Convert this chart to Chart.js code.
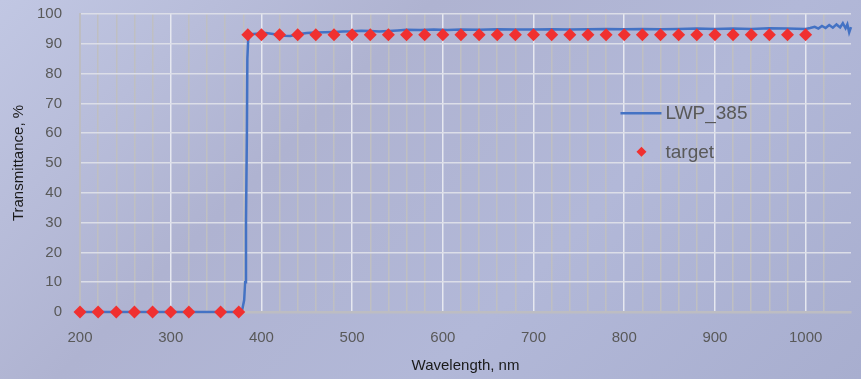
<!DOCTYPE html>
<html>
<head>
<meta charset="utf-8">
<script src="https://cdn.jsdelivr.net/npm/chart.js@4/dist/chart.umd.min.js"></script>
<style>
	html, body { margin: 0; padding: 0; }
	body {
		width: 861px;
		height: 379px;
		background: linear-gradient(135deg, #c1c7e3 0%, #afb3d1 35%, #b2b8d8 65%, #a8aecf 100%);
	}
	#wrap { position: relative; width: 861px; height: 379px; }
</style>
</head>
<body>
<div id="wrap"><canvas id="chart"></canvas></div>
<script>
// measured curve of the long-pass filter
const lwpWave = [
	200, 250, 300, 350, 370, 376, 379, 381, 382, 383, 384, 384.5, 385.5, 388,
	395, 405, 415, 425, 432, 440, 450, 460, 470, 480, 490, 500, 510, 520, 530,
	540, 550, 560, 575, 590, 605, 620, 640, 660, 680, 700, 720, 740, 760, 780,
	800, 820, 840, 860, 880, 900, 920, 940, 960, 980, 1000, 1005, 1010, 1014,
	1018, 1022, 1026, 1030, 1034, 1038, 1041, 1044, 1046, 1048, 1050
];
const lwpT = [
	0, 0, 0, 0, 0, 0.1, 1, 4, 10, 30, 60, 85, 92, 93.2,
	93.4, 93.6, 93.2, 92.7, 92.6, 93.2, 93.6, 93.8, 93.9, 94.0, 94.1, 94.2, 94.4, 94.3, 94.1,
	94.3, 94.5, 94.7, 94.6, 94.8, 94.6, 94.8, 94.7, 94.9, 94.8, 94.8, 94.9, 94.8, 94.9, 95.0,
	94.9, 95.0, 94.9, 95.0, 95.1, 95.0, 95.1, 95.0, 95.2, 95.1, 95.0, 95.3, 95.7, 95.1,
	96.0, 95.3, 96.3, 95.4, 96.5, 95.5, 96.9, 95.2, 96.5, 93.8, 95.6
];

// design target points
const targetWave = [
	200, 220, 240, 260, 280, 300, 320, 355, 375,
	385, 400, 420, 440, 460, 480, 500, 520, 540, 560, 580, 600, 620, 640, 660,
	680, 700, 720, 740, 760, 780, 800, 820, 840, 860, 880, 900, 920, 940, 960,
	980, 1000
];
const targetT = [
	0, 0, 0, 0, 0, 0, 0, 0, 0,
	93, 93, 93, 93, 93, 93, 93, 93, 93, 93, 93, 93, 93, 93, 93,
	93, 93, 93, 93, 93, 93, 93, 93, 93, 93, 93, 93, 93, 93, 93,
	93, 93
];

const xMin = 200, xMax = 1050, xStep = 20, xLabelStep = 100;
const yMin = 0, yMax = 100, yStep = 10;

const toPoints = (xs, ys) => xs.map((x, i) => ({ x: x, y: ys[i] }));

const tickColor = '#595959';
const font = 'Liberation Sans';

// legend drawn inside the plot area, on the right
const insideLegend = {
	id: 'insideLegend',
	afterDraw(chart) {
		const ctx = chart.ctx;
		const area = chart.chartArea;
		const x0 = area.left + (area.right - area.left) * 0.701;
		const yRows = [area.top + (area.bottom - area.top) * 0.333, area.top + (area.bottom - area.top) * 0.462];
		ctx.save();
		ctx.font = '19px ' + font;
		ctx.fillStyle = tickColor;
		ctx.textBaseline = 'middle';
		chart.data.datasets.forEach((ds, i) => {
			const y = yRows[i];
			if (ds.showLine) {
				ctx.strokeStyle = ds.borderColor;
				ctx.lineWidth = ds.borderWidth;
				ctx.beginPath();
				ctx.moveTo(x0, y);
				ctx.lineTo(x0 + 41, y);
				ctx.stroke();
			} else {
				const cx = x0 + 21, r = 5;
				ctx.fillStyle = ds.backgroundColor;
				ctx.beginPath();
				ctx.moveTo(cx, y - r);
				ctx.lineTo(cx + r, y);
				ctx.lineTo(cx, y + r);
				ctx.lineTo(cx - r, y);
				ctx.closePath();
				ctx.fill();
				ctx.fillStyle = tickColor;
			}
			ctx.fillText(ds.label, x0 + 45, y + 1);
		});
		ctx.restore();
	}
};

new Chart(document.getElementById('chart'), {
	type: 'scatter',
	data: {
		datasets: [
			{
				label: 'LWP_385',
				data: toPoints(lwpWave, lwpT),
				showLine: true,
				borderColor: '#4472c4',
				borderWidth: 2.5,
				pointRadius: 0,
				tension: 0,
				clip: false,
				order: 2
			},
			{
				label: 'target',
				data: toPoints(targetWave, targetT),
				showLine: false,
				pointStyle: 'rectRot',
				pointRadius: 6.5,
				backgroundColor: '#f03030',
				borderColor: '#f03030',
				borderWidth: 0,
				clip: false,
				order: 1
			}
		]
	},
	options: {
		responsive: true,
		maintainAspectRatio: false,
		animation: false,
		layout: { padding: { top: 14, right: 10, left: 0, bottom: 0 } },
		plugins: {
			legend: { display: false },
			tooltip: { enabled: false }
		},
		scales: {
			x: {
				type: 'linear',
				min: xMin,
				max: xMax,
				afterFit: (scale) => { scale.height = 67; },
				afterBuildTicks: (scale) => {
					const ticks = [];
					for (let v = xMin; v <= xMax - xStep; v += xStep) ticks.push({ value: v });
					scale.ticks = ticks;
				},
				ticks: {
					autoSkip: false,
					maxRotation: 0,
					color: tickColor,
					font: { family: font, size: 15 },
					padding: 17,
					callback: (v) => (v % xLabelStep === 0 ? v : '')
				},
				grid: {
					color: (c) => (c.tick && c.tick.value % xLabelStep === 0 ? '#e6e8f0' : '#bfbfc2'),
					lineWidth: 1.5,
					drawTicks: false
				},
				border: { color: '#bdbdc2', width: 2.5 },
				title: {
					display: true,
					text: 'Wavelength, nm',
					color: '#1a1a1a',
					font: { family: font, size: 15 },
					padding: { top: 0 }
				}
			},
			y: {
				min: yMin,
				max: yMax,
				afterFit: (scale) => {
					scale.width = 80;
					scale.paddingTop = 4;
					scale.paddingBottom = 4;
				},
				ticks: {
					stepSize: yStep,
					color: tickColor,
					font: { family: font, size: 15 },
					padding: 18
				},
				grid: {
					color: '#dcdee8',
					lineWidth: 1.5,
					drawTicks: false
				},
				border: { color: '#bdbdc2', width: 2 },
				title: {
					display: true,
					text: 'Transmittance, %',
					color: '#1a1a1a',
					font: { family: font, size: 15 },
					padding: { top: 10, bottom: 0 }
				}
			}
		}
	},
	plugins: [insideLegend]
});
</script>
</body>
</html>
